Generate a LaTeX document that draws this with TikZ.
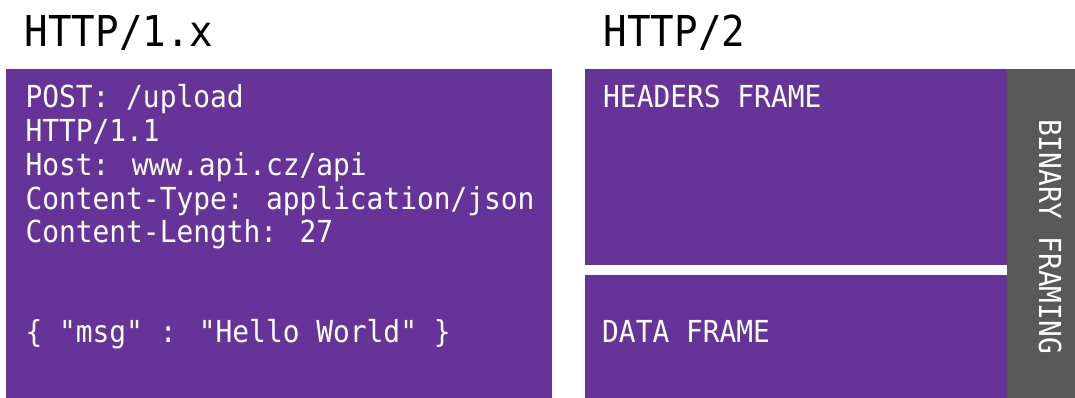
\documentclass[tikz,border=0pt]{standalone}
\usepackage{fontspec}
\newfontfamily\monofont[FakeStretch=0.92,Ligatures=TeXOff]{DejaVu Sans Mono}
\definecolor{framepurple}{HTML}{663399}
\definecolor{framegray}{HTML}{595959}

\begin{document}
\begin{tikzpicture}[x=1pt,y=-1pt,
  title/.style={anchor=base west, inner sep=0pt, text=black,
    font=\monofont\fontsize{42.6}{42.6}\selectfont},
  body/.style={anchor=base west, inner sep=0pt, text=white,
    font=\monofont\fontsize{30.3}{33.7}\selectfont},
  block/.style={fill=framepurple},
  layer/.style={fill=framegray}]
\useasboundingbox (0,0) rectangle (1075,398);
\fill[white] (0,0) rectangle (1075,398);

% HTTP/1.x: one plain-text message
\node[title] (t1) at (24.5,47) {HTTP/1.x};
\path[block] (6,69) rectangle (552,398);
\node[body] (l1) at (25.3,108) {POST: /upload};
\node[body] (l2) at (25.3,141.7) {HTTP/1.1};
\node[body] (l3) at (25.3,175.4) {Host: www.api.cz/api};
\node[body] (l4) at (25.3,209.1) {Content-Type: application/json};
\node[body] (l5) at (25.3,242.8) {Content-Length: 27};
\node[body] (l6) at (25.3,342) {\{ "msg" : "Hello World" \}};

% HTTP/2: separate frames inside the binary framing layer
\node[title] (t2) at (603.5,47) {HTTP/2};
\path[block] (585,69) rectangle (1007,265);
\path[block] (585,275) rectangle (1007,398);
\path[layer] (1007,69) rectangle (1075,398);
\node[body] (hf) at (603,108) {HEADERS FRAME};
\node[body] (df) at (602,342) {DATA FRAME};
\node[body, anchor=base, rotate=-90] (bf) at (1039,236.5) {BINARY FRAMING};
\end{tikzpicture}
\end{document}
